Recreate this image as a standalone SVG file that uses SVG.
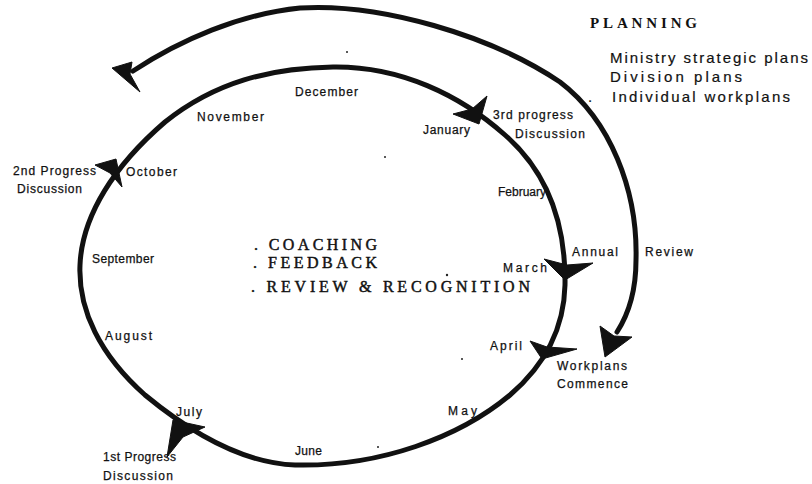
<svg xmlns="http://www.w3.org/2000/svg" width="812" height="484" viewBox="0 0 812 484">
  <style>
    .line { fill: none; stroke: #111; stroke-width: 5; stroke-linecap: round; }
    .head { fill: #111; stroke: #111; stroke-width: 1; stroke-linejoin: round; }
    .lbl { font-family: "Liberation Sans", Arial, sans-serif; font-size: 12px; fill: #111; stroke: #111; stroke-width: 0.25; }
    .plan { font-family: "Liberation Sans", Arial, sans-serif; font-size: 15px; fill: #111; stroke: #111; stroke-width: 0.2; }
    .title { font-family: "Liberation Serif", "Times New Roman", serif; font-size: 15px; font-weight: bold; fill: #111; }
    .focus { font-family: "Liberation Serif", "Times New Roman", serif; font-size: 16px; fill: #111; stroke: #111; stroke-width: 0.45; }
    .speck { fill: #222; }
  </style>

  <rect width="812" height="484" fill="#ffffff"/>

  <!-- cycle lines and arrowheads -->
  <g id="connectors">
    <!-- outer planning / annual review arc -->
    <path class="line" d="M 133,71 C 180,40 240,14 300,8 C 380,3 490,35 560,82 C 610,120 638,190 636,260 C 636,290 628,315 617,332"/>
    <polygon class="head" points="112,68 132,62 130,74 140,92"/>
    <polygon class="head" points="600,326 614,336 632,337 605,357"/>

    <!-- inner monthly loop -->
    <path class="line" d="M 333,67 C 400,66 460,95 505,135 C 545,170 566,220 565,285 C 564,330 545,365 510,395 C 460,437 380,467 295,465 C 240,463 185,428 145,395 C 100,355 78,310 80,265 C 82,215 115,165 165,122 C 215,82 270,68 333,67 Z"/>
    <polygon class="head" points="453,114 472,109 487,96 479,124"/>
    <polygon class="head" points="544,259 567,265 593,263 565,280"/>
    <polygon class="head" points="530,341 547,347 577,349 542,359"/>
    <polygon class="head" points="173,420 205,427 183,437 167,457"/>
    <polygon class="head" points="95,165 110,173 122,187 116,159"/>
  </g>

  <!-- planning inputs -->
  <g id="planning">
    <text class="title" x="590" y="28" textLength="107" lengthAdjust="spacing">PLANNING</text>
    <text class="plan" x="610" y="63" textLength="198" lengthAdjust="spacing">Ministry strategic plans</text>
    <text class="plan" x="610" y="82" textLength="132" lengthAdjust="spacing">Division plans</text>
    <text class="plan" x="588" y="102">.</text>
    <text class="plan" x="612" y="102" textLength="178" lengthAdjust="spacing">Individual workplans</text>
  </g>

  <!-- ongoing activities in the middle of the cycle -->
  <g id="focus">
    <text class="focus" x="254" y="250" textLength="123" lengthAdjust="spacing">. COACHING</text>
    <text class="focus" x="253" y="268" textLength="124" lengthAdjust="spacing">. FEEDBACK</text>
    <text class="focus" x="251" y="292" textLength="279" lengthAdjust="spacing">. REVIEW &amp; RECOGNITION</text>
  </g>

  <!-- months around the loop -->
  <g id="months">
    <text class="lbl" x="295" y="96" textLength="63" lengthAdjust="spacing">December</text>
    <text class="lbl" x="197" y="121" textLength="67" lengthAdjust="spacing">November</text>
    <text class="lbl" x="423" y="134" textLength="47" lengthAdjust="spacing">January</text>
    <text class="lbl" x="498" y="196" textLength="48" lengthAdjust="spacing">February</text>
    <text class="lbl" x="503" y="272" textLength="44" lengthAdjust="spacing">March</text>
    <text class="lbl" x="490" y="350" textLength="32" lengthAdjust="spacing">April</text>
    <text class="lbl" x="448" y="415" textLength="29" lengthAdjust="spacing">May</text>
    <text class="lbl" x="295" y="455" textLength="27" lengthAdjust="spacing">June</text>
    <text class="lbl" x="176" y="416" textLength="26" lengthAdjust="spacing">July</text>
    <text class="lbl" x="105" y="340" textLength="47" lengthAdjust="spacing">August</text>
    <text class="lbl" x="92" y="263" textLength="62" lengthAdjust="spacing">September</text>
    <text class="lbl" x="126" y="176" textLength="51" lengthAdjust="spacing">October</text>
  </g>

  <!-- milestones -->
  <g id="milestone-3rd">
    <text class="lbl" x="493" y="119" textLength="80" lengthAdjust="spacing">3rd progress</text>
    <text class="lbl" x="515" y="138" textLength="70" lengthAdjust="spacing">Discussion</text>
  </g>
  <g id="milestone-annual">
    <text class="lbl" x="572" y="256" textLength="46" lengthAdjust="spacing">Annual</text>
    <text class="lbl" x="645" y="256" textLength="48" lengthAdjust="spacing">Review</text>
  </g>
  <g id="milestone-commence">
    <text class="lbl" x="557" y="370" textLength="70" lengthAdjust="spacing">Workplans</text>
    <text class="lbl" x="557" y="388" textLength="71" lengthAdjust="spacing">Commence</text>
  </g>
  <g id="milestone-1st">
    <text class="lbl" x="103" y="461" textLength="73" lengthAdjust="spacing">1st Progress</text>
    <text class="lbl" x="103" y="480" textLength="70" lengthAdjust="spacing">Discussion</text>
  </g>
  <g id="milestone-2nd">
    <text class="lbl" x="13" y="175" textLength="83" lengthAdjust="spacing">2nd Progress</text>
    <text class="lbl" x="17" y="193" textLength="65" lengthAdjust="spacing">Discussion</text>
  </g>

  <!-- stray print marks -->
  <g id="marks">
    <circle class="speck" cx="347" cy="52" r="1"/>
    <circle class="speck" cx="385" cy="157" r="1"/>
    <circle class="speck" cx="447" cy="275" r="1.2"/>
    <circle class="speck" cx="462" cy="359" r="1"/>
    <circle class="speck" cx="378" cy="447" r="1"/>
  </g>
</svg>
